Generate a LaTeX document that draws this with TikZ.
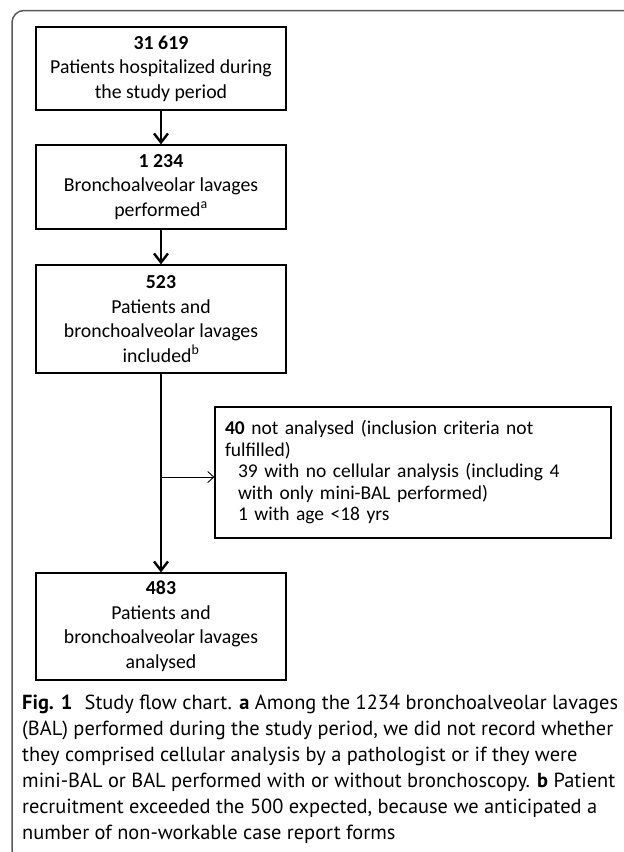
\documentclass[tikz,border=0pt]{standalone}
\usepackage{fontspec}
\setmainfont{Carlito}
\newfontfamily\capfont{PT Sans}
\usetikzlibrary{arrows.meta}
\tikzset{
box/.style={draw,line width=1.2pt,minimum width=250pt,align=center,inner sep=0pt,font=\fontsize{19.8}{24.5}\selectfont},
sidebox/.style={draw,line width=1.2pt,minimum width=396pt,minimum height=131pt,align=left,text width=376pt,inner xsep=10pt,inner ysep=0pt,font=\fontsize{19.5}{21.5}\selectfont},
flow/.style={line width=2.6pt,-{Straight Barb[length=9pt,width=14pt,line width=2.4pt]}},
branch/.style={line width=0.9pt,-{Straight Barb[length=6pt,width=11pt,line width=0.9pt]}}
}
\begin{document}
\begin{tikzpicture}[x=1pt,y=-1pt]
\useasboundingbox(0,0)rectangle(624,852);
\begin{scope}
\clip(0,0)rectangle(624,852);
\draw[black!65,line width=1.5pt,rounded corners=12pt](660,10.5)--(12,10.5)--(12,862)--(660,862);
\end{scope}
\node[box,minimum height=83pt](hosp)at(161,68.5){\textbf{31 619}\\Patients hospitalized during\\the study period};
\node[box,minimum height=84pt](bal)at(161,187){\textbf{1 234}\\Bronchoalveolar lavages\\performed\textsuperscript{a}};
\node[box,minimum height=108pt](incl)at(161,319){\textbf{523}\\Patients and\\bronchoalveolar lavages\\included\textsuperscript{b}};
\node[sidebox](excl)at(413,472.5){\textbf{40} not analysed (inclusion criteria not\\fulfilled)\\
\hspace*{13pt}39 with no cellular analysis (including 4\\\hspace*{13pt}with only mini-BAL performed)\\\hspace*{13pt}1 with age <18 yrs};
\node[box,minimum height=107pt](anal)at(161,626.5){\textbf{483}\\Patients and\\bronchoalveolar lavages\\analysed};
\coordinate(fork)at(161,477);
\draw[flow](hosp)--(bal);
\draw[flow](bal)--(incl);
\draw[flow](incl)--(anal);
\draw[branch](fork)--(fork-|excl.west);
\node[anchor=base west,align=left,inner sep=0pt,font=\capfont\fontsize{20.4}{26}\selectfont](cap)at(22,839){\textbf{Fig. 1}\hspace{0.6em}Study flow chart. \textbf{a} Among the 1234 bronchoalveolar lavages\\
(BAL) performed during the study period, we did not record whether\\
they comprised cellular analysis by a pathologist or if they were\\
mini-BAL or BAL performed with or without bronchoscopy. \textbf{b} Patient\\
recruitment exceeded the 500 expected, because we anticipated a\\
number of non-workable case report forms};
\end{tikzpicture}
\end{document}
